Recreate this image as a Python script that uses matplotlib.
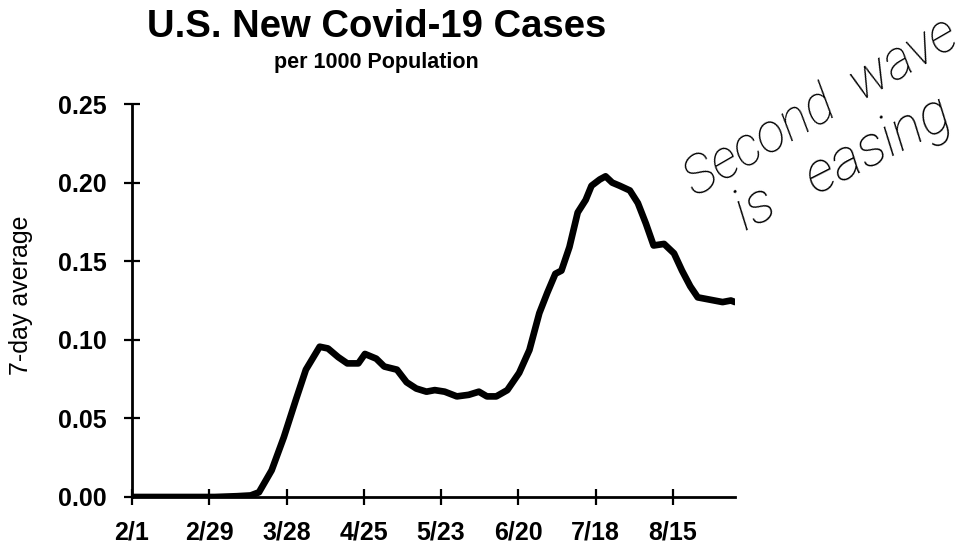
import numpy as np
import matplotlib.pyplot as plt

# days since 2/1/2020 and 7-day average new cases per 1000 people
days = [0, 30, 38, 43, 46, 50.6, 55, 59.4, 63, 68, 71, 74.7, 78, 82, 84.4, 88.5,
        91.4, 96, 99.5, 103, 106.7, 109.7, 113.3, 117.7, 122, 125.7, 128.6, 132,
        136, 140.3, 144, 147.6, 150.5, 153.4, 155.6, 158.5, 161.5, 164.4, 166.5,
        169.5, 171.6, 174, 176.7, 180.4, 183.3, 186.2, 189, 192.8, 196.4, 199.3,
        202.3, 205, 208, 211, 214, 217, 218.5]
cases = [0.0, 0.0, 0.0005, 0.001, 0.003, 0.017, 0.038, 0.062, 0.081, 0.0956,
         0.0945, 0.089, 0.085, 0.085, 0.091, 0.088, 0.083, 0.081, 0.073, 0.069,
         0.067, 0.068, 0.067, 0.064, 0.065, 0.067, 0.064, 0.064, 0.068, 0.079,
         0.0935, 0.117, 0.130, 0.142, 0.144, 0.159, 0.181, 0.189, 0.198, 0.202,
         0.204, 0.200, 0.198, 0.195, 0.187, 0.174, 0.160, 0.161, 0.155, 0.144,
         0.134, 0.127, 0.126, 0.125, 0.124, 0.125, 0.124]

tick_days = [0, 28, 56, 84, 112, 140, 168, 196]
tick_labels = ["2/1", "2/29", "3/28", "4/25", "5/23", "6/20", "7/18", "8/15"]
y_ticks = [0.0, 0.05, 0.10, 0.15, 0.20, 0.25]

plt.rcParams['font.family'] = ['Liberation Sans', 'DejaVu Sans']

fig = plt.figure(figsize=(9.68, 5.44), dpi=100)
ax = fig.add_axes([0.1364, 0.0864, 0.6229, 0.7224])

ax.plot(days, cases, color='black', lw=4.8, solid_joinstyle='round',
        solid_capstyle='round')

ax.set_xlim(0, 218.5)
ax.set_ylim(0, 0.25)
ax.set_xticks(tick_days)
ax.set_xticklabels(tick_labels)
ax.set_yticks(y_ticks)
ax.set_yticklabels([f"{v:.2f}" for v in y_ticks])

for s in ['top', 'right']:
    ax.spines[s].set_visible(False)
for s in ['left', 'bottom']:
    ax.spines[s].set_linewidth(2)

ax.tick_params(axis='both', direction='inout', length=11, width=1.6,
               labelsize=18)
ax.tick_params(axis='x', pad=11.5)
ax.tick_params(axis='y', pad=12.5)
for lbl in ax.get_xticklabels() + ax.get_yticklabels():
    lbl.set_fontweight('bold')

ax.set_ylabel("7-day average", fontsize=18)
ax.yaxis.set_label_coords(-0.164, 0.514)

fig.text(0.389, 0.932, "U.S. New Covid-19 Cases", ha='center', va='baseline',
         fontsize=27.5, fontweight='bold')
fig.text(0.389, 0.875, "per 1000 Population", ha='center', va='baseline',
         fontsize=15.5, fontweight='bold')

# handwritten note
fig.text(0.849, 0.801, "Second  wave", ha='center', va='center', rotation=30,
         fontsize=38, fontstyle='italic', fontweight='light',
         family=['Roboto', 'DejaVu Sans'])
fig.text(0.872, 0.697, "is   easing", ha='center', va='center', rotation=27,
         fontsize=41, fontstyle='italic', fontweight='light',
         family=['Roboto', 'DejaVu Sans'])

fig.savefig("out.png", dpi=100, facecolor='white')
